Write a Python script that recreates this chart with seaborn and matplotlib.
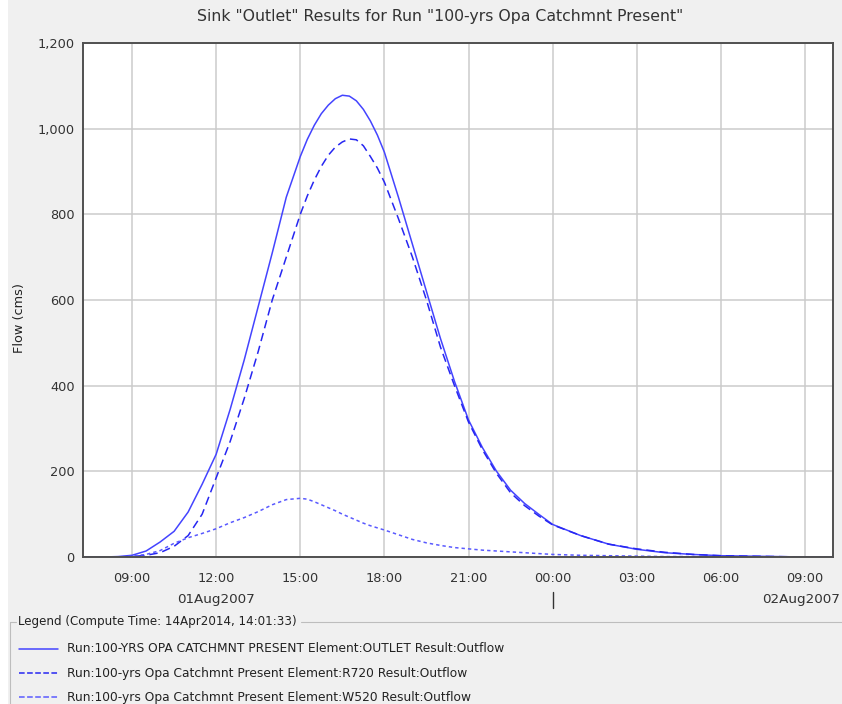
import matplotlib
matplotlib.use("Agg")
import matplotlib.pyplot as plt
import matplotlib.transforms as mtransforms
from matplotlib.lines import Line2D
from matplotlib.patches import Rectangle
from matplotlib.ticker import FuncFormatter, FixedLocator
import seaborn as sns

# ---------------- data ----------------
hours = [7.25, 8, 8.5, 9, 9.5, 10, 10.5, 11, 11.5, 12, 12.5, 13, 13.5, 14, 14.5,
         15, 15.25, 15.5, 15.75, 16, 16.25, 16.5, 16.75, 17, 17.25, 17.5, 17.75,
         18, 18.5, 19, 19.5, 20, 20.5, 21, 21.5,
         22, 22.5, 23, 23.5, 24, 25, 26, 27, 28, 29, 30, 31, 32, 33, 34]
outlet = [0, 0, 1, 4, 14, 35, 60, 105, 170, 240, 345, 460, 585, 710, 840,
          935, 975, 1008, 1035, 1055, 1070, 1078, 1076, 1065, 1045, 1018, 985,
          945, 840, 730, 620, 510, 410, 320, 255,
          200, 156, 125, 100, 76, 50, 30, 18, 10, 6, 3, 2, 1, 0, 0]
r720 = [0, 0, 0, 1, 4, 10, 25, 50, 100, 185, 270, 370, 480, 600, 700,
        800, 843, 880, 912, 938, 957, 969, 976, 974, 960, 935, 908,
        875, 790, 700, 600, 490, 400, 315, 250,
        195, 150, 120, 96, 75, 50, 30, 19, 11, 6, 3, 2, 1, 0, 0]
w520 = [0, 0, 0, 2, 6, 15, 32, 45, 55, 66, 80, 92, 106, 122, 134,
        137, 135, 129, 122, 115, 108, 100, 93, 86, 79, 73, 68,
        63, 52, 41, 33, 27, 22, 19, 16,
        14, 12, 10, 8, 6, 4, 3, 2, 1, 1, 0, 0, 0, 0, 0]

series_names = [
    "Run:100-YRS OPA CATCHMNT PRESENT Element:OUTLET Result:Outflow",
    "Run:100-yrs Opa Catchmnt Present Element:R720 Result:Outflow",
    "Run:100-yrs Opa Catchmnt Present Element:W520 Result:Outflow",
]
x_ticks = [9, 12, 15, 18, 21, 24, 27, 30, 33]
x_tick_labels = ["09:00", "12:00", "15:00", "18:00", "21:00", "00:00", "03:00", "06:00", "09:00"]
y_ticks = [0, 200, 400, 600, 800, 1000, 1200]
date_labels = ["01Aug2007", "02Aug2007"]
date_label_hours = [12, 33]
day_break_hours = [24]

title = 'Sink "Outlet" Results for Run "100-yrs Opa Catchmnt Present"'
ylabel = "Flow (cms)"
legend_title = "Legend (Compute Time: 14Apr2014, 14:01:33)"

# ---------------- style ----------------
sns.set_style("white")
plt.rcParams['font.family'] = ['DejaVu Sans']

W, H = 842, 704
def fx(px):
    return px / W
def fy(py):
    return 1 - py / H

fig = plt.figure(figsize=(W / 100, H / 100), dpi=100, facecolor='#f0f0f0')
fig.patches.append(Rectangle((0, 0), fx(8), 1, transform=fig.transFigure,
                             facecolor='white', edgecolor='none', zorder=-5))

ax = fig.add_axes([fx(83), fy(557), fx(833) - fx(83), fy(43) - fy(557)])
ax.set_facecolor('white')

colors = ['#4444ff', '#2626f2', '#5a5aff']
styles = ['-', (0, (5.5, 3.2)), (0, (2.2, 2.0))]
LW = 1.1
for vals, c, name in zip([outlet, r720, w520], colors, series_names):
    sns.lineplot(x=hours, y=vals, ax=ax, color=c, lw=LW, label=name)
if ax.get_legend() is not None:
    ax.get_legend().remove()
data_lines = ax.get_lines()[:3]
for line, ls in zip(data_lines, styles):
    line.set_linewidth(LW)
    line.set_linestyle(ls)

ax.set_xlim(7.25, 34)
ax.set_ylim(0, 1200)
ax.xaxis.set_major_locator(FixedLocator(x_ticks))
ax.set_xticklabels(x_tick_labels)
ax.yaxis.set_major_locator(FixedLocator(y_ticks))
ax.yaxis.set_major_formatter(FuncFormatter(lambda v, p: f"{v:,.0f}"))
ax.grid(True, color='#cbcbcb', lw=1.1)
ax.set_axisbelow(True)
for s in ax.spines.values():
    s.set_visible(True)
    s.set_color('#505050')
    s.set_linewidth(1.4)
ax.tick_params(axis='both', direction='out', length=4, width=1.0, color='#505050',
               labelsize=9.3, labelcolor='#333333')
ax.tick_params(axis='x', pad=7)
ax.tick_params(axis='y', pad=2)
ax.set_xlabel("")
ax.set_ylabel("")

fig.text(fx(440), fy(17), title, ha='center', va='center', fontsize=11.3, color='#333333')
fig.text(fx(20), fy(318), ylabel, ha='center', va='center', rotation=90, fontsize=9.3,
         color='#222222')

trans = mtransforms.blended_transform_factory(ax.transData, fig.transFigure)
ax.text(date_label_hours[0], fy(600), date_labels[0], transform=trans, ha='center',
        va='center', fontsize=9.7, color='#333333', clip_on=False)
# second date label kept fully inside the figure (reference shows it at the right edge)
fig.text(fx(840), fy(600), date_labels[1], ha='right', va='center', fontsize=9.7,
         color='#333333')
for h in day_break_hours:
    ax.add_line(Line2D([h, h], [fy(592), fy(608)], transform=trans, color='#333333',
                       lw=1.0, clip_on=False))

# legend area (titled border)
border = '#bdbdbd'
fig.add_artist(Line2D([fx(10), fx(10)], [fy(622), 0], transform=fig.transFigure,
                      color=border, lw=0.8))
fig.add_artist(Line2D([fx(10), fx(16)], [fy(622), fy(622)], transform=fig.transFigure,
                      color=border, lw=0.8))
fig.add_artist(Line2D([fx(301), 1], [fy(622), fy(622)], transform=fig.transFigure,
                      color=border, lw=0.8))
fig.text(fx(18), fy(622), legend_title, ha='left', va='center', fontsize=8.6,
         color='#222222')

entry_y = [649, 673, 697]
for line, ey in zip(data_lines, entry_y):
    fig.add_artist(Line2D([fx(19), fx(58)], [fy(ey), fy(ey)], transform=fig.transFigure,
                          color=line.get_color(), linestyle=line.get_linestyle(),
                          lw=line.get_linewidth()))
for name, ey in zip(series_names, entry_y):
    fig.text(fx(67), fy(ey), name, ha='left', va='center', fontsize=8.8, color='#222222')

fig.savefig("out.png", dpi=100, facecolor=fig.get_facecolor())
